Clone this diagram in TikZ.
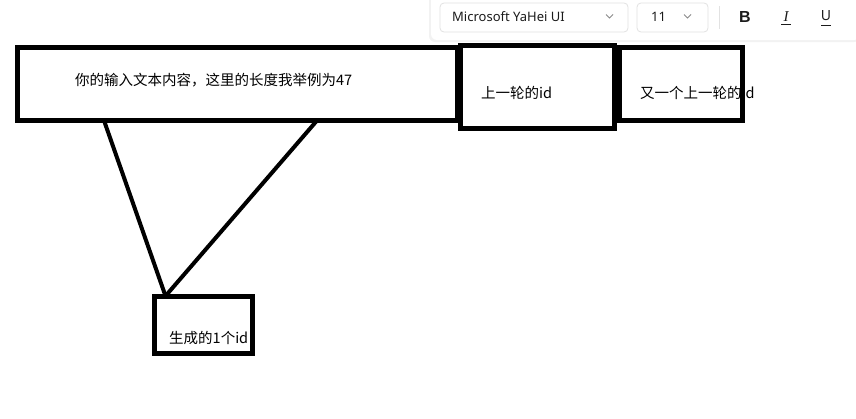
\documentclass[tikz,border=0pt]{standalone}
\usepackage{fontspec}
\setmainfont{Noto Sans CJK SC}
\newfontfamily\uifont{Noto Sans}
\newfontfamily\iconsans{Liberation Sans}
\newfontfamily\iconserif{Liberation Serif}
\usetikzlibrary{calc,positioning}
\definecolor{Chrome}{HTML}{1B1B1B}
\definecolor{Edge}{HTML}{E2E2E2}
\definecolor{Chevron}{HTML}{8A8A8A}
\tikzset{
  thickbox/.style={draw=black,line width=5pt,inner sep=0pt,outer sep=0pt},
  boxtext/.style={font=\fontsize{14.5}{16}\selectfont,anchor=west,inner sep=0pt},
  link/.style={line width=4pt},
  dropbox/.style={draw=Edge,fill=white,rounded corners=4pt,line width=0.8pt},
  uitext/.style={font=\uifont\fontsize{13}{15}\selectfont,text=Chrome,inner sep=0pt}
}

\begin{document}
\begin{tikzpicture}[x=1pt,y=-1pt]
  \useasboundingbox (0,0) rectangle (856,418);
  % toolbar
  \fill[black!5,rounded corners=6pt] (429,-8) rectangle (860,42);
  \fill[white,rounded corners=6pt] (431,-8) rectangle (860,40);
  \draw[dropbox] (440,3) rectangle (628,32);
  \draw[dropbox] (637,3) rectangle (708,32);
  \node[uitext,anchor=west] (fontname) at (452,17) {Microsoft YaHei UI};
  \node[uitext,anchor=west] (fontsize) at (651,17) {11};
  \draw[Chevron,line width=0.8pt] (606,14.5) -- (609.5,18) -- (613,14.5);
  \draw[Chevron,line width=0.8pt] (684,14.5) -- (687.5,18) -- (691,14.5);
  \draw[Edge,line width=0.8pt] (719,6) -- (719,29);
  \node[uitext,font=\iconsans\bfseries\fontsize{16}{18}\selectfont] (bold) at (745,17) {B};
  \node[uitext,font=\iconserif\itshape\fontsize{15}{17}\selectfont] (italic) at (786,17) {I};
  \draw[Chrome,line width=0.7pt] (781,24.5) -- (791,24.5);
  \node[uitext,font=\uifont\fontsize{14}{16}\selectfont] (under) at (826,16) {U};
  \draw[Chrome,line width=0.7pt] (821,25) -- (831,25);

  % texts first, borders over them
  \node[boxtext] (intext) at (75,80) {你的输入文本内容，这里的长度我举例为47};
  \node[boxtext] (prevtext) at (481,93) {上一轮的id};
  \node[boxtext] (othertext) at (640,93) {又一个上一轮的id};
  \node[boxtext] (gentext) at (169,338) {生成的1个id};

  % boxes
  \node[thickbox,minimum width=440.5pt,minimum height=73.5pt] (inbox) at (237.25,83.75) {};
  \node[thickbox,minimum width=154.5pt,minimum height=83pt] (prevbox) at (537.25,87) {};
  \node[thickbox,minimum width=122.5pt,minimum height=72.5pt] (otherbox) at (680.75,83.75) {};
  \node[thickbox,minimum width=97.5pt,minimum height=57pt] (genbox) at (203.25,324.5) {};

  % links
  \draw[link] ($(inbox.south west)+(87,0)$) -- ($(genbox.north west)+(11,0)$);
  \draw[link] ($(inbox.south west)+(300,0)$) -- ($(genbox.north west)+(11,0)$);
\end{tikzpicture}
\end{document}
